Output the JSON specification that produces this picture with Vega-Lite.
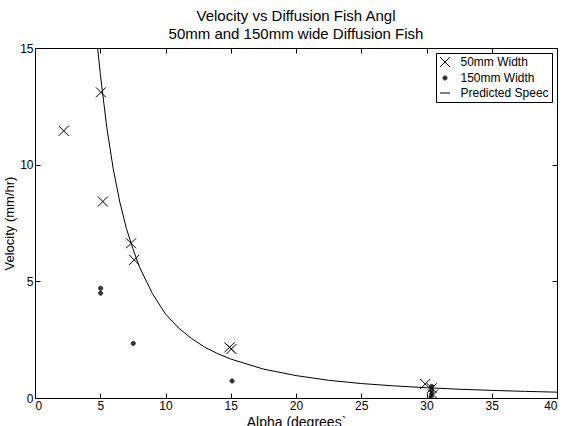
{
  "$schema": "https://vega.github.io/schema/vega-lite/v6.json",
  "width": 522,
  "height": 350,
  "autosize": "none",
  "padding": {"left": 35, "top": 48, "right": 5, "bottom": 28},
  "background": "white",
  "title": {
    "text": ["Velocity vs Diffusion Fish Angl", "50mm and 150mm wide Diffusion Fish"],
    "font": "Liberation Sans",
    "fontSize": 15,
    "fontWeight": "normal",
    "lineHeight": 18,
    "offset": 0,
    "anchor": "middle",
    "color": "black"
  },
  "config": {
    "view": {"stroke": "black", "strokeWidth": 1},
    "axis": {
      "grid": false,
      "domain": false,
      "labelFont": "Liberation Sans",
      "labelFontSize": 12,
      "labelColor": "black",
      "titleFont": "Liberation Sans",
      "titleFontSize": 13,
      "titleFontWeight": "normal",
      "titleColor": "black"
    }
  },
  "datasets": {
    "obs": [
      {"series": "50mm Width", "alpha": 2.2, "velocity": 11.45},
      {"series": "50mm Width", "alpha": 5.05, "velocity": 13.1},
      {"series": "50mm Width", "alpha": 5.2, "velocity": 8.42},
      {"series": "50mm Width", "alpha": 7.36, "velocity": 6.63},
      {"series": "50mm Width", "alpha": 7.6, "velocity": 5.92},
      {"series": "50mm Width", "alpha": 14.9, "velocity": 2.17},
      {"series": "50mm Width", "alpha": 15.05, "velocity": 2.1},
      {"series": "50mm Width", "alpha": 29.9, "velocity": 0.6},
      {"series": "50mm Width", "alpha": 30.4, "velocity": 0.42},
      {"series": "50mm Width", "alpha": 30.5, "velocity": 0.15},
      {"series": "150mm Width", "alpha": 5.03, "velocity": 4.7},
      {"series": "150mm Width", "alpha": 5.03, "velocity": 4.49},
      {"series": "150mm Width", "alpha": 7.53, "velocity": 2.34},
      {"series": "150mm Width", "alpha": 15.1, "velocity": 0.73},
      {"series": "150mm Width", "alpha": 30.4, "velocity": 0.5},
      {"series": "150mm Width", "alpha": 30.4, "velocity": 0.33},
      {"series": "150mm Width", "alpha": 30.4, "velocity": 0.18},
      {"series": "150mm Width", "alpha": 30.35, "velocity": 0.05}
    ],
    "curve": [
      {"alpha": 4.8, "velocity": 15.0},
      {"alpha": 5.0, "velocity": 13.9},
      {"alpha": 5.5, "velocity": 11.6},
      {"alpha": 6.0, "velocity": 9.8},
      {"alpha": 6.5, "velocity": 8.4},
      {"alpha": 7.0, "velocity": 7.27},
      {"alpha": 7.5, "velocity": 6.4},
      {"alpha": 8.0, "velocity": 5.62},
      {"alpha": 9.0, "velocity": 4.47},
      {"alpha": 10.0, "velocity": 3.6},
      {"alpha": 11.0, "velocity": 3.0},
      {"alpha": 12.0, "velocity": 2.55},
      {"alpha": 13.0, "velocity": 2.18},
      {"alpha": 14.0, "velocity": 1.9},
      {"alpha": 15.0, "velocity": 1.67},
      {"alpha": 17.5, "velocity": 1.24},
      {"alpha": 20.0, "velocity": 0.96},
      {"alpha": 22.5, "velocity": 0.76},
      {"alpha": 25.0, "velocity": 0.62},
      {"alpha": 27.5, "velocity": 0.52},
      {"alpha": 30.0, "velocity": 0.44},
      {"alpha": 32.5, "velocity": 0.376},
      {"alpha": 35.0, "velocity": 0.326},
      {"alpha": 37.5, "velocity": 0.285},
      {"alpha": 40.0, "velocity": 0.25}
    ]
  },
  "layer": [
    {
      "data": {"name": "curve"},
      "mark": {"type": "line", "color": "black", "strokeWidth": 1, "clip": true},
      "encoding": {
        "x": {
          "field": "alpha", "type": "quantitative",
          "scale": {"domain": [0, 40], "nice": false, "zero": false},
          "axis": {"orient": "top", "labels": false, "ticks": true, "tickSize": 5, "tickColor": "black", "tickWidth": 1, "offset": -5, "title": null, "values": [0, 5, 10, 15, 20, 25, 30, 35, 40]}
        },
        "y": {
          "field": "velocity", "type": "quantitative",
          "scale": {"domain": [0, 15], "nice": false},
          "axis": {"orient": "right", "labels": false, "ticks": true, "tickSize": 5, "tickColor": "black", "tickWidth": 1, "offset": -5, "title": null, "values": [0, 5, 10, 15]}
        }
      }
    },
    {
      "data": {"name": "obs"},
      "mark": {"type": "point", "filled": false, "color": "black", "strokeWidth": 1, "opacity": 1, "size": 100, "clip": true},
      "encoding": {
        "x": {
          "field": "alpha", "type": "quantitative",
          "axis": {"orient": "bottom", "ticks": true, "tickSize": 5, "tickColor": "black", "tickWidth": 1, "offset": -5, "title": "Alpha (degrees`", "titleFontSize": 14, "values": [0, 5, 10, 15, 20, 25, 30, 35, 40], "labelPadding": 2, "titlePadding": 4}
        },
        "y": {
          "field": "velocity", "type": "quantitative",
          "axis": {"orient": "left", "ticks": true, "tickSize": 5, "tickColor": "black", "tickWidth": 1, "offset": -5, "title": "Velocity (mm/hr)", "values": [0, 5, 10, 15], "labelPadding": 2, "titlePadding": 3}
        },
        "shape": {
          "field": "series", "type": "nominal",
          "scale": {
            "domain": ["50mm Width", "150mm Width", "Predicted Speec"],
            "range": ["M-1,-1L1,1M-1,1L1,-1", "M0,-0.1A0.1,0.1 0 1,1 0,0.1A0.1,0.1 0 1,1 0,-0.1ZM0,-0.25A0.25,0.25 0 1,1 0,0.25A0.25,0.25 0 1,1 0,-0.25ZM0,-0.4A0.4,0.4 0 1,1 0,0.4A0.4,0.4 0 1,1 0,-0.4Z", "stroke"]
          },
          "legend": {
            "title": null,
            "orient": "top-right",
            "offset": 5,
            "strokeColor": "black",
            "fillColor": "white",
            "padding": 3,
            "cornerRadius": 0,
            "labelFont": "Liberation Sans",
            "labelFontSize": 12,
            "labelColor": "black",
            "labelOffset": 9.5,
            "rowPadding": 3,
            "symbolSize": 100,
            "symbolStrokeColor": "black",
            "symbolStrokeWidth": 1
          }
        }
      }
    }
  ],
  "resolve": {"axis": {"x": "independent", "y": "independent"}}
}
